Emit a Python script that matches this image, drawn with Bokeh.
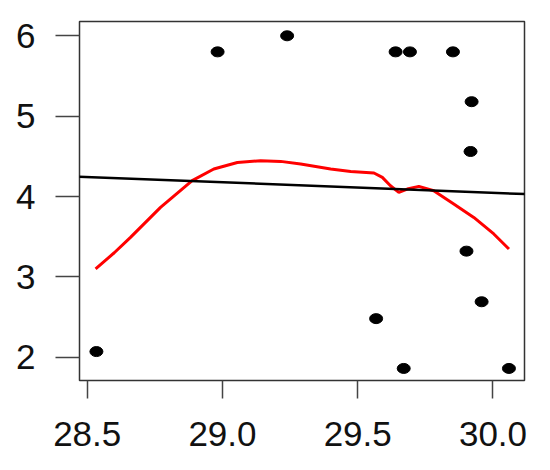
from bokeh.plotting import figure
from bokeh.models import FixedTicker, Range1d, Slope
from bokeh.embed import file_html
from bokeh.resources import INLINE

# scatter data
x_pts = [28.534, 28.982, 29.239, 29.640, 29.693, 29.852, 29.921, 29.917,
         29.902, 29.958, 29.568, 29.670, 30.059]
y_pts = [2.07, 5.80, 6.00, 5.80, 5.80, 5.80, 5.18, 4.56,
         3.32, 2.69, 2.48, 1.86, 1.86]

# smooth (red) curve
smooth_x = [28.531, 28.600, 28.660, 28.771, 28.888, 28.968, 29.055, 29.141, 29.215,
            29.289, 29.400, 29.474, 29.560, 29.591, 29.621, 29.652, 29.683,
            29.726, 29.781, 29.855, 29.929, 30.003, 30.059]
smooth_y = [3.098, 3.300, 3.491, 3.864, 4.197, 4.342, 4.424, 4.445, 4.437,
            4.404, 4.342, 4.312, 4.292, 4.238, 4.134, 4.051, 4.093,
            4.126, 4.072, 3.907, 3.740, 3.534, 3.347]

# straight fit line
fit_gradient = -0.1307
fit_intercept = 7.967

x_ticks = [28.5, 29.0, 29.5, 30.0]
x_tick_labels = ["28.5", "29.0", "29.5", "30.0"]
y_ticks = [2, 3, 4, 5, 6]
y_tick_labels = ["2", "3", "4", "5", "6"]

p = figure(width=540, height=460, output_backend="svg", toolbar_location=None,
           x_range=Range1d(28.4715, 30.1165), y_range=Range1d(1.710, 6.178),
           min_border_left=79, min_border_right=16, min_border_top=21,
           min_border_bottom=80)

p.grid.visible = False
p.background_fill_color = "white"
p.border_fill_color = "white"
p.outline_line_color = "#333333"
p.outline_line_width = 1.5

p.xaxis.ticker = FixedTicker(ticks=x_ticks)
p.xaxis.major_label_overrides = {t: l for t, l in zip(x_ticks, x_tick_labels)}
p.yaxis.ticker = FixedTicker(ticks=y_ticks)
p.yaxis.major_label_overrides = {t: l for t, l in zip(y_ticks, y_tick_labels)}

for ax in (p.xaxis, p.yaxis):
    ax.axis_line_color = None
    ax.major_tick_in = 0
    ax.minor_tick_line_color = None
    ax.major_tick_line_color = "#444444"
    ax.major_tick_line_width = 1.5
    ax.major_label_text_font = "Liberation Sans"
    ax.major_label_text_font_size = "35px"
    ax.major_label_text_color = "#111111"

p.yaxis.major_tick_out = 24
p.yaxis.major_label_standoff = 20
p.xaxis.major_tick_out = 18
p.xaxis.major_label_standoff = 23

p.add_layout(Slope(gradient=fit_gradient, y_intercept=fit_intercept,
                   line_color="black", line_width=2.5))

p.line(smooth_x, smooth_y, line_color="#FF0000", line_width=3)

p.ellipse(x=x_pts, y=y_pts, width=13, height=10, width_units="screen",
          height_units="screen", fill_color="black", line_color="black")

open("out.html", "w").write(file_html(p, INLINE))
